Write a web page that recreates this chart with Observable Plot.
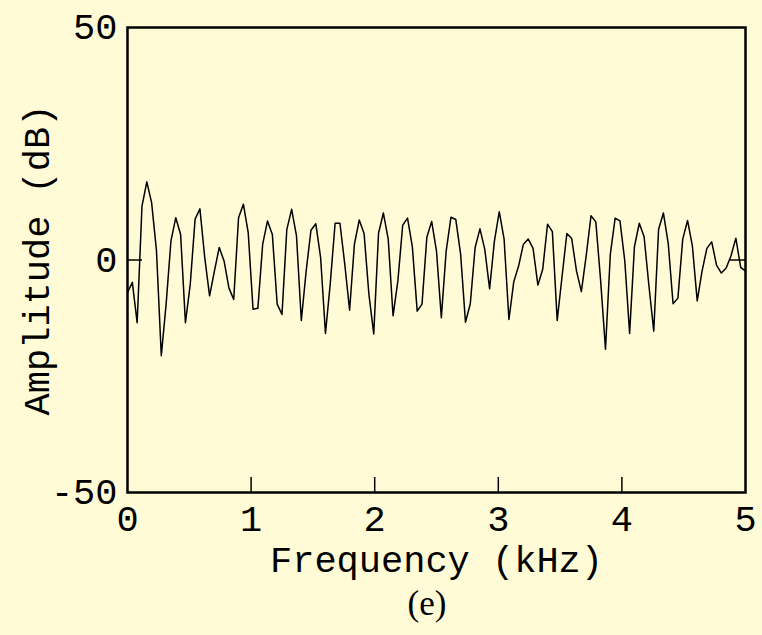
<!DOCTYPE html>
<html>
<head>
<meta charset="utf-8">
<script src="https://cdn.jsdelivr.net/npm/d3@7"></script>
<script src="https://cdn.jsdelivr.net/npm/@observablehq/plot@0.6"></script>
<style>
  html, body { margin: 0; padding: 0; background: #fffbd6; }
  #chart { width: 762px; height: 635px; position: relative; background: #fffbd6; }
  #cap { position: absolute; left: 0; width: 762px; top: 590px; text-align: center;
         font-family: "Liberation Serif", serif; font-size: 35px; line-height: 28px; color: #000; padding-left: 92px; box-sizing: border-box; }
</style>
</head>
<body>
<div id="chart"></div>
<script>
// Spectrum amplitude (dB), one value per frequency bin from 0 to 5 kHz (128 bins)
const amplitudeDb = [
  -7.0, -4.8, -13.5, 11.6, 16.8, 12.3, 2.0, -20.6, -9.5, 4.1,
  9.1, 5.5, -13.5, -5.2, 8.8, 11.0, 0.5, -7.7, -2.4, 2.7,
  -0.2, -6.0, -8.5, 9.1, 12.0, 5.9, -10.6, -10.4, 3.4, 8.4,
  5.5, -9.5, -11.7, 6.6, 10.9, 5.2, -13.0, -2.4, 6.4, 7.8,
  0.5, -15.8, -5.0, 7.9, 7.9, -0.9, -10.8, 3.4, 8.6, 5.7,
  -7.4, -15.9, 5.8, 10.1, 4.5, -12.0, -4.5, 7.5, 9.0, 2.8,
  -11.0, -9.5, 4.9, 8.3, 1.9, -12.4, 1.9, 9.2, 8.7, 1.2,
  -13.4, -9.4, 2.7, 6.7, 2.3, -6.2, 4.1, 10.4, 4.5, -12.8,
  -4.7, -1.3, 3.4, 4.5, 2.5, -5.4, -2.0, 7.7, 6.1, -13.0,
  -3.6, 5.7, 4.6, -2.4, -6.8, 0.9, 9.5, 8.2, -4.5, -19.2,
  1.2, 9.0, 8.4, -0.2, -15.8, 2.9, 7.9, 5.0, -5.6, -15.3,
  6.6, 10.1, 3.5, -9.4, -8.2, 4.5, 8.5, 3.0, -8.8, -2.4,
  2.5, 3.9, -1.1, -2.8, -1.7, 0.9, 4.7, -1.6, -2.4
];
const maxFreqKHz = 5;
const binCount = 128;
const xTicks = [0, 1, 2, 3, 4, 5];
const yTicks = [-50, 0, 50];
const innerXTicks = [1, 2, 3, 4];
const innerYTicks = [0];
const xLabel = "Frequency (kHz)";
const yLabel = "Amplitude (dB)";
const captionText = "(e)";

const data = amplitudeDb.map((a, i) => ({ f: i * maxFreqKHz / binCount, a }));

const W = 762, H = 586;
const mL = 127, mR = 17, mT = 27, mB = H - 492;
const plotW = W - mL - mR, plotH = H - mT - mB;
const font = "'Liberation Mono', 'DejaVu Sans Mono', monospace";

const chart = Plot.plot({
  width: W,
  height: H,
  marginLeft: mL,
  marginRight: mR,
  marginTop: mT,
  marginBottom: mB,
  style: { background: "#fffbd6", fontFamily: font, fontSize: "37px", color: "#000", overflow: "visible" },
  x: { domain: [0, 5] },
  y: { domain: [-50, 50] },
  marks: [
    Plot.axisX({ ticks: xTicks, tickSize: 0, tickPadding: 12, tickFormat: d => String(d), label: null, fontSize: 37 }),
    Plot.axisY({ ticks: yTicks, tickSize: 0, tickPadding: 10, tickFormat: d => String(d), label: null, fontSize: 37 }),
    Plot.ruleX(innerXTicks, { stroke: "#000", strokeWidth: 1.5, insetTop: plotH - 15 }),
    Plot.ruleY(innerYTicks, { stroke: "#000", strokeWidth: 1.5, insetRight: plotW - 15 }),
    Plot.ruleY(innerYTicks, { stroke: "#000", strokeWidth: 1.5, insetLeft: plotW - 15 }),
    Plot.line(data, { x: "f", y: "a", stroke: "#000", strokeWidth: 1.5 }),
    Plot.frame({ stroke: "#000", strokeWidth: 2.5 }),
    Plot.text([xLabel], { frameAnchor: "bottom", dy: 68, fontSize: 37, fontFamily: font, fill: "#000", lineAnchor: "middle", textAnchor: "middle" }),
    Plot.text([yLabel], { frameAnchor: "left", dx: -90, rotate: -90, fontSize: 37, fontFamily: font, fill: "#000", lineAnchor: "middle", textAnchor: "middle" })
  ]
});
const host = document.getElementById("chart");
host.appendChild(chart);
const cap = document.createElement("div");
cap.id = "cap";
cap.textContent = captionText;
host.appendChild(cap);
</script>
</body>
</html>
